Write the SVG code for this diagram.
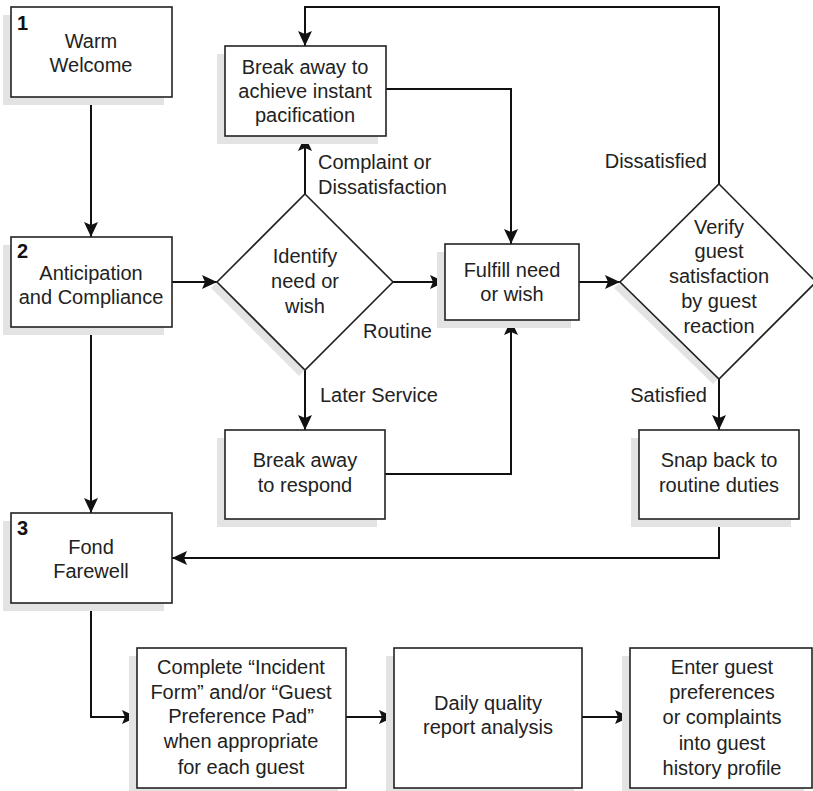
<svg xmlns="http://www.w3.org/2000/svg" width="813" height="791" viewBox="0 0 813 791">
<style>
.box{fill:#fff;stroke:#222;stroke-width:1.6}
.sh{fill:#e3e3e3;stroke:none}
.t{font-family:"Liberation Sans",Arial,sans-serif;font-size:20px;fill:#222;text-anchor:middle}
.lbl{font-family:"Liberation Sans",Arial,sans-serif;font-size:20px;fill:#222}
.num{font-family:"Liberation Sans",Arial,sans-serif;font-size:20px;font-weight:bold;fill:#111}
.c{fill:none;stroke:#111;stroke-width:2}
</style>
<defs>
<marker id="ah" markerUnits="userSpaceOnUse" markerWidth="16" markerHeight="16" viewBox="0 -8 16 16" refX="15" refY="0" orient="auto">
<path d="M0,-7 L15,0 L0,7 L3,0 z" fill="#111"/>
</marker>
</defs>
<rect width="813" height="791" fill="#fff"/>
<g id="connectors">
<path class="c" d="M91,97 V237" marker-end="url(#ah)"/>
<path class="c" d="M172,282 H217" marker-end="url(#ah)"/>
<path class="c" d="M305,194 V136" marker-end="url(#ah)"/>
<path class="c" d="M719,184 V7 H305 V46" marker-end="url(#ah)"/>
<path class="c" d="M386,89 H511 V244" marker-end="url(#ah)"/>
<path class="c" d="M393,282 H445" marker-end="url(#ah)"/>
<path class="c" d="M579,282 H620" marker-end="url(#ah)"/>
<path class="c" d="M305,370 V430" marker-end="url(#ah)"/>
<path class="c" d="M385,474 H511 V320" marker-end="url(#ah)"/>
<path class="c" d="M719,379 V430" marker-end="url(#ah)"/>
<path class="c" d="M719,519 V558 H172" marker-end="url(#ah)"/>
<path class="c" d="M91,327 V513" marker-end="url(#ah)"/>
<path class="c" d="M91,603 V717 H137" marker-end="url(#ah)"/>
<path class="c" d="M346,717 H394" marker-end="url(#ah)"/>
<path class="c" d="M582,717 H630" marker-end="url(#ah)"/>
<text class="lbl" x="318" y="169">Complaint or</text>
<text class="lbl" x="318" y="194">Dissatisfaction</text>
<text class="lbl" x="363" y="338">Routine</text>
<text class="lbl" x="320" y="402">Later Service</text>
<text class="lbl" x="707" y="168" text-anchor="end">Dissatisfied</text>
<text class="lbl" x="707" y="402" text-anchor="end">Satisfied</text>
</g>
<g id="n1">
<rect class="sh" x="3" y="15" width="161" height="90"/>
<rect class="box" x="11" y="7" width="161" height="90"/>
<text class="num" x="17" y="30">1</text>
<text class="t" x="91" y="48">Warm</text>
<text class="t" x="91" y="72">Welcome</text>
</g>
<g id="n2">
<rect class="sh" x="3" y="245" width="161" height="90"/>
<rect class="box" x="11" y="237" width="161" height="90"/>
<text class="num" x="17" y="258">2</text>
<text class="t" x="91" y="280">Anticipation</text>
<text class="t" x="91" y="304">and Compliance</text>
</g>
<g id="n3">
<rect class="sh" x="3" y="521" width="161" height="90"/>
<rect class="box" x="11" y="513" width="161" height="90"/>
<text class="num" x="17" y="535">3</text>
<text class="t" x="91" y="554">Fond</text>
<text class="t" x="91" y="578">Farewell</text>
</g>
<g id="identify">
<polygon class="sh" points="299,200 387,288 299,376 211,288"/>
<polygon class="box" points="305,194 393,282 305,370 217,282"/>
<text class="t" x="305" y="263">Identify</text>
<text class="t" x="305" y="288">need or</text>
<text class="t" x="305" y="313">wish</text>
</g>
<g id="pacify">
<rect class="sh" x="217" y="54" width="161" height="90"/>
<rect class="box" x="225" y="46" width="161" height="90"/>
<text class="t" x="305" y="74">Break away to</text>
<text class="t" x="305" y="98">achieve instant</text>
<text class="t" x="305" y="122">pacification</text>
</g>
<g id="respond">
<rect class="sh" x="217" y="438" width="160" height="89"/>
<rect class="box" x="225" y="430" width="160" height="89"/>
<text class="t" x="305" y="467">Break away</text>
<text class="t" x="305" y="492">to respond</text>
</g>
<g id="fulfill">
<rect class="sh" x="437" y="252" width="134" height="76"/>
<rect class="box" x="445" y="244" width="134" height="76"/>
<text class="t" x="512" y="277">Fulfill need</text>
<text class="t" x="512" y="301">or wish</text>
</g>
<g id="verify">
<polygon class="sh" points="713,190 810,287 713,384 614,288"/>
<polygon class="box" points="719,184 816,282 719,379 620,282"/>
<text class="t" x="719" y="234">Verify</text>
<text class="t" x="719" y="258">guest</text>
<text class="t" x="719" y="283">satisfaction</text>
<text class="t" x="719" y="308">by guest</text>
<text class="t" x="719" y="333">reaction</text>
</g>
<g id="snap">
<rect class="sh" x="631" y="438" width="160" height="89"/>
<rect class="box" x="639" y="430" width="160" height="89"/>
<text class="t" x="719" y="467">Snap back to</text>
<text class="t" x="719" y="492">routine duties</text>
</g>
<g id="incident">
<rect class="sh" x="129" y="656" width="209" height="140"/>
<rect class="box" x="137" y="648" width="209" height="140"/>
<text class="t" x="241" y="674">Complete “Incident</text>
<text class="t" x="241" y="699">Form” and/or “Guest</text>
<text class="t" x="241" y="723">Preference Pad”</text>
<text class="t" x="241" y="748">when appropriate</text>
<text class="t" x="241" y="774">for each guest</text>
</g>
<g id="daily">
<rect class="sh" x="386" y="656" width="188" height="140"/>
<rect class="box" x="394" y="648" width="188" height="140"/>
<text class="t" x="488" y="710">Daily quality</text>
<text class="t" x="488" y="734">report analysis</text>
</g>
<g id="enter">
<rect class="sh" x="622" y="656" width="182" height="140"/>
<rect class="box" x="630" y="648" width="182" height="140"/>
<text class="t" x="722" y="674">Enter guest</text>
<text class="t" x="722" y="699">preferences</text>
<text class="t" x="722" y="724">or complaints</text>
<text class="t" x="722" y="750">into guest</text>
<text class="t" x="722" y="775">history profile</text>
</g>
</svg>
